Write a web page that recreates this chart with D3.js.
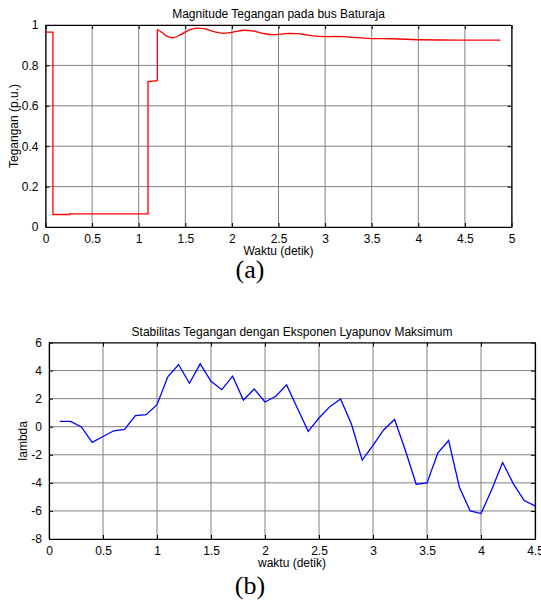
<!DOCTYPE html>
<html>
<head>
<meta charset="utf-8">
<script src="https://cdn.jsdelivr.net/npm/d3@7"></script>
<style>
    body { margin: 0; background: #fff; }
    svg { display: block; }
</style>
</head>
<body>
<div id="plot"></div>
<script>
"use strict";

// (a) bus voltage magnitude, p.u.
const voltTime = [0, 0.08, 0.08, 0.26, 0.26, 1.1, 1.1, 1.2, 1.2,
    1.25, 1.3, 1.37, 1.45, 1.55, 1.62, 1.7, 1.8, 1.91, 2.0, 2.14, 2.25, 2.35, 2.44,
    2.52, 2.6, 2.7, 2.8, 2.87, 3.0, 3.1, 3.2, 3.35, 3.51, 3.73, 4.02, 4.45, 4.88];
const voltValue = [0.965, 0.965, 0.062, 0.062, 0.065, 0.065, 0.72, 0.725, 0.978,
    0.963, 0.945, 0.937, 0.952, 0.977, 0.985, 0.982, 0.968, 0.959, 0.964, 0.974, 0.968, 0.957, 0.952,
    0.955, 0.958, 0.957, 0.951, 0.946, 0.942, 0.943, 0.942, 0.937, 0.933, 0.932, 0.927, 0.925, 0.925];
// index where the smooth swing starts (after the last step)
const smoothFrom = 8;

// (b) max Lyapunov exponent
const lyapTime = [0.1, 0.2, 0.3, 0.4, 0.5, 0.6, 0.7, 0.8, 0.9, 1.0,
    1.1, 1.2, 1.3, 1.4, 1.5, 1.6, 1.7, 1.8, 1.9, 2.0,
    2.1, 2.2, 2.3, 2.4, 2.5, 2.6, 2.7, 2.8, 2.9, 3.0,
    3.1, 3.2, 3.3, 3.4, 3.5, 3.6, 3.7, 3.8, 3.9, 4.0,
    4.1, 4.2, 4.3, 4.4, 4.5];
const lyapValue = [0.38, 0.38, -0.02, -1.12, -0.7, -0.29, -0.19, 0.79, 0.86, 1.57,
    3.55, 4.43, 3.1, 4.48, 3.24, 2.64, 3.6, 1.9, 2.69, 1.76,
    2.17, 2.98, 1.31, -0.33, 0.62, 1.43, 1.98, 0.19, -2.38, -1.33,
    -0.21, 0.52, -1.69, -4.1, -4.0, -1.88, -0.98, -4.31, -6.0, -6.19,
    -4.48, -2.55, -4.07, -5.26, -5.64];

const xTicksA = [0, 0.5, 1, 1.5, 2, 2.5, 3, 3.5, 4, 4.5, 5];
const yTicksA = [0, 0.2, 0.4, 0.6, 0.8, 1];
const xTicksB = [0, 0.5, 1, 1.5, 2, 2.5, 3, 3.5, 4, 4.5];
const yTicksB = [-8, -6, -4, -2, 0, 2, 4, 6];

const msm = {
    width: 541,
    height: 603,
    font: "'Liberation Sans', Arial, sans-serif",
    serif: "'Liberation Serif', 'Times New Roman', serif"
};

const svg = d3.select("#plot")
    .append("svg")
    .attr("width", msm.width)
    .attr("height", msm.height);

svg.append("rect")
    .attr("width", msm.width)
    .attr("height", msm.height)
    .attr("fill", "#fff");

// draw one MATLAB-like axes box with grid, ticks all round and labels
function drawFrame(box, xScale, yScale, xTicks, yTicks, txt) {
    let g = svg.append("g");

    // grid
    g.append("g").selectAll("line")
        .data(xTicks)
        .enter()
        .append("line")
        .attr("x1", (d) => xScale(d)).attr("x2", (d) => xScale(d))
        .attr("y1", box.top).attr("y2", box.bottom)
        .attr("stroke", "#808080").attr("stroke-width", 1);
    g.append("g").selectAll("line")
        .data(yTicks)
        .enter()
        .append("line")
        .attr("y1", (d) => yScale(d)).attr("y2", (d) => yScale(d))
        .attr("x1", box.left).attr("x2", box.right)
        .attr("stroke", "#808080").attr("stroke-width", 1);

    let fmt = (d) => String(d);
    let axes = [
        [d3.axisBottom(xScale).tickValues(xTicks).tickFormat(fmt), 0, box.bottom, true],
        [d3.axisTop(xScale).tickValues(xTicks).tickFormat(""), 0, box.top, false],
        [d3.axisLeft(yScale).tickValues(yTicks).tickFormat(fmt), box.left, 0, true],
        [d3.axisRight(yScale).tickValues(yTicks).tickFormat(""), box.right, 0, false]
    ];
    axes.forEach((a) => {
        let ax = a[0].tickSizeInner(-4).tickSizeOuter(0).tickPadding(a[3] ? 7 : 0);
        let ag = g.append("g")
            .attr("transform", "translate(" + a[1] + "," + a[2] + ")")
            .call(ax);
        ag.select(".domain").attr("stroke", "#000").attr("stroke-width", 1.2);
        ag.selectAll(".tick line").attr("stroke", "#000");
        ag.selectAll("text")
            .style("font-family", msm.font)
            .style("font-size", "12px")
            .attr("fill", "#000");
    });

    g.append("text")
        .attr("x", (box.left + box.right) / 2)
        .attr("y", box.top - 7)
        .attr("text-anchor", "middle")
        .style("font-family", msm.font)
        .style("font-size", "12px")
        .text(txt.title);

    g.append("text")
        .attr("x", (box.left + box.right) / 2)
        .attr("y", box.bottom + 28)
        .attr("text-anchor", "middle")
        .style("font-family", msm.font)
        .style("font-size", "12px")
        .text(txt.xlabel);

    g.append("text")
        .attr("transform", "translate(" + txt.ylabelX + "," + (box.top + box.bottom) / 2 + ") rotate(-90)")
        .attr("text-anchor", "middle")
        .style("font-family", msm.font)
        .style("font-size", "12px")
        .text(txt.ylabel);

    g.append("text")
        .attr("x", 250)
        .attr("y", txt.tagY)
        .attr("text-anchor", "middle")
        .style("font-family", msm.serif)
        .style("font-size", "26px")
        .text(txt.tag);
}

function drawVoltage() {
    let box = { left: 45.5, right: 511.5, top: 25, bottom: 227 };
    let xScale = d3.scaleLinear().domain([0, 5]).range([box.left, box.right]);
    let yScale = d3.scaleLinear().domain([0, 1]).range([box.bottom, box.top]);

    drawFrame(box, xScale, yScale, xTicksA, yTicksA, {
        title: "Magnitude Tegangan pada bus Baturaja",
        xlabel: "Waktu (detik)",
        ylabel: "Tegangan (p.u.)",
        ylabelX: 18,
        tag: "(a)",
        tagY: 278
    });

    let pts = voltTime.map((t, i) => [t, voltValue[i]]);
    let steps = d3.line()
        .x((d) => xScale(d[0]))
        .y((d) => yScale(d[1]));
    let smooth = d3.line()
        .curve(d3.curveMonotoneX)
        .x((d) => xScale(d[0]))
        .y((d) => yScale(d[1]));

    svg.append("path")
        .attr("d", steps(pts.slice(0, smoothFrom + 1)))
        .attr("fill", "none")
        .attr("stroke", "#ff0000")
        .attr("stroke-width", 1.3);
    svg.append("path")
        .attr("d", smooth(pts.slice(smoothFrom)))
        .attr("fill", "none")
        .attr("stroke", "#ff0000")
        .attr("stroke-width", 1.3);
}

function drawLyapunov() {
    let box = { left: 49, right: 535, top: 342.5, bottom: 539 };
    let xScale = d3.scaleLinear().domain([0, 4.5]).range([box.left, box.right]);
    let yScale = d3.scaleLinear().domain([-8, 6]).range([box.bottom, box.top]);

    drawFrame(box, xScale, yScale, xTicksB, yTicksB, {
        title: "Stabilitas Tegangan dengan Eksponen Lyapunov Maksimum",
        xlabel: "waktu (detik)",
        ylabel: "lambda",
        ylabelX: 27,
        tag: "(b)",
        tagY: 594
    });

    let line = d3.line()
        .x((d, i) => xScale(lyapTime[i]))
        .y((d) => yScale(d));

    svg.append("path")
        .attr("d", line(lyapValue))
        .attr("fill", "none")
        .attr("stroke", "#0000ff")
        .attr("stroke-width", 1.3);
}

drawVoltage();
drawLyapunov();
</script>
</body>
</html>
